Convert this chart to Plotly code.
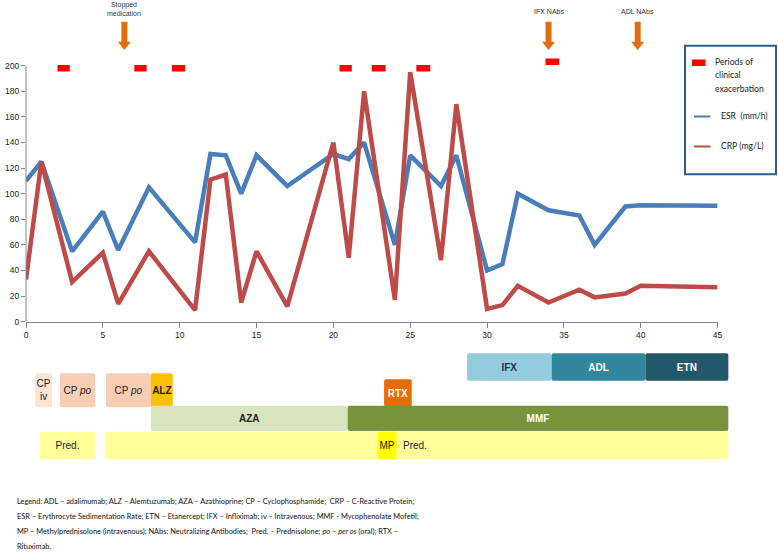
import plotly.graph_objects as go

# ---------------- data ----------------
time_points = [0, 1, 3, 5, 6, 8, 11, 12, 13, 14, 15, 17, 20, 21, 22, 24, 25, 27, 28, 30, 31, 32, 34, 36, 37, 39, 40, 45]
esr_values = [110, 125, 55, 86, 56, 105, 62, 131, 130, 100, 130, 106, 131, 127, 140, 60, 130, 106, 130, 40, 45, 100, 87, 83, 60, 90, 91, 90.5]
crp_values = [33, 125, 31, 54, 14, 55, 9, 111, 115, 15, 55, 12, 140, 50, 180, 17, 195, 48, 170, 10, 13, 28, 15, 25, 19, 22, 28, 27]

flare_start = [2.05, 7.05, 9.5, 20.4, 22.5, 25.4, 33.8]
flare_end = [2.85, 7.85, 10.35, 21.2, 23.4, 26.3, 34.7]
flare_level = [198, 198, 198, 198, 198, 198, 203]

event_x = [6.4, 34.0, 39.8]
event_labels = ["Stopped<br>medication", "IFX NAbs", "ADL NAbs"]

x_ticks = [0, 5, 10, 15, 20, 25, 30, 35, 40, 45]
y_ticks = [0, 20, 40, 60, 80, 100, 120, 140, 160, 180, 200]

treatments = ["IFX", "ADL", "ETN", "CP iv", "CP po", "CP po", "ALZ", "RTX", "AZA", "MMF", "Pred.", "Pred.", "MP"]
treat_start = [28.7, 34.2, 40.3, 0.6, 2.2, 5.2, 8.13, 23.3, 8.13, 20.93, 0.9, 5.2, 22.9]
treat_end = [34.2, 40.3, 45.7, 1.7, 4.5, 8.13, 9.55, 25.1, 20.93, 45.7, 4.5, 45.7, 24.1]

legend_lines = [
    "Legend: ADL – adalimumab; ALZ – Alemtuzumab; AZA – Azathioprine; CP – Cyclophosphamide;  CRP – C-Reactive Protein;",
    "ESR – Erythrocyte Sedimentation Rate; ETN – Etanercept; IFX – Infliximab; iv – Intravenous; MMF - Mycophenolate Mofetil;",
    "MP – Methylprednisolone (intravenous); NAbs: Neutralizing Antibodies;  Pred. – Prednisolone; <i>po</i> – <i>per os</i> (oral); RTX –",
    "Rituximab.",
]

# ---------------- styles / layout ----------------
W, H = 778, 555
ML, MR = 26, 38
PW = W - ML - MR
X0_PX, X45_PX = 26, 717.6
SCALE = (X45_PX - X0_PX) / 45.0
Y0_PX, PX_PER_UNIT = 321.7, 1.28
Y_TOP = 210

FONT = "Lato, Liberation Sans, Arial, sans-serif"
TICKFONT = "Liberation Sans, Arial, sans-serif"
BLUE = "#4A7EBB"
RED = "#BE4B48"
ORANGE = "#E46C0A"
GREY = "#868686"

LANE_OF = {"IFX": "bio", "ADL": "bio", "ETN": "bio", "CP iv": "cp", "CP po": "cp", "ALZ": "cp",
           "RTX": "rtx", "AZA": "imm", "MMF": "imm", "Pred.": "ster", "MP": "ster"}
LANE_GEOM = {"bio": (367, 27.4), "cp": (390.3, 34), "rtx": (393, 27.4), "imm": (418.3, 25.3), "ster": (445.5, 27.6)}
COLOR_OF = {"IFX": "#93CDDD", "ADL": "#31859C", "ETN": "#215968", "CP iv": "#FCE4D6", "CP po": "#F9CDB3",
            "ALZ": "#FFC000", "RTX": "#E46C0A", "AZA": "#D7E4BD", "MMF": "#77933C", "Pred.": "#FFFF99", "MP": "#FFFF00"}
TEXTCOL_OF = {"IFX": "#1F2F4F", "ADL": "white", "ETN": "white", "CP iv": "#222", "CP po": "#222", "ALZ": "#222",
              "RTX": "white", "AZA": "#222", "MMF": "white", "Pred.": "#222", "MP": "#222"}
LABEL_OF = {"IFX": "<b>IFX</b>", "ADL": "<b>ADL</b>", "ETN": "<b>ETN</b>", "CP iv": "CP<br>iv", "CP po": "CP <i>po</i>",
            "ALZ": "<b>ALZ</b>", "RTX": "<b>RTX</b>", "AZA": "<b>AZA</b>", "MMF": "<b>MMF</b>", "Pred.": "Pred.", "MP": "MP"}


def px_x(p):
    return (p - ML) / PW


def px_y(p):
    return 1 - p / H


fig = go.Figure()

# main lines
fig.add_trace(go.Scatter(x=time_points, y=esr_values, mode="lines", line=dict(color=BLUE, width=4.5),
                         showlegend=False, name="ESR  (mm/h)"))
fig.add_trace(go.Scatter(x=time_points, y=crp_values, mode="lines", line=dict(color=RED, width=4.5),
                         showlegend=False, name="CRP (mg/L)"))

# flare periods
fx, fy = [], []
for s, e, lv in zip(flare_start, flare_end, flare_level):
    fx += [s, e, None]
    fy += [lv, lv, None]
fig.add_trace(go.Scatter(x=fx, y=fy, mode="lines", line=dict(color="#FF0000", width=6.5),
                         showlegend=False, name="Periods of clinical exacerbation"))

# treatment timeline bars
labels, centers, widths, colors, tcolors = [], [], [], [], []
long_pred_idx = None
for i, name in enumerate(treatments):
    c, h = LANE_GEOM[LANE_OF[name]]
    centers.append(c)
    widths.append(h)
    colors.append(COLOR_OF[name])
    tcolors.append(TEXTCOL_OF[name])
    if name == "Pred." and treat_end[i] - treat_start[i] > 20:
        labels.append("")
        long_pred_idx = i
    else:
        labels.append(LABEL_OF[name])

fig.add_trace(go.Bar(
    orientation="h", base=treat_start, x=[e - s for s, e in zip(treat_start, treat_end)], y=centers,
    width=widths, marker=dict(color=colors, line=dict(width=0), cornerradius=2),
    text=labels, textposition="inside", insidetextanchor="middle", textangle=0, constraintext="none",
    textfont=dict(family=TICKFONT, size=10, color=tcolors),
    xaxis="x2", yaxis="y2", showlegend=False, hoverinfo="skip"))

shapes = []
annotations = []

# y axis line (0..200)
shapes.append(dict(type="line", xref="paper", yref="y", x0=0, x1=0, y0=0, y1=200,
                   line=dict(color=GREY, width=1)))

# event arrows
for ex, lab in zip(event_x, event_labels):
    hs, hh = 3 / SCALE, 6.5 / SCALE
    yt, yb, ytip = px_y(21.7), px_y(41.7), px_y(50)
    path = (f"M {ex-hs},{yt} L {ex+hs},{yt} L {ex+hs},{yb} L {ex+hh},{yb} L {ex},{ytip} "
            f"L {ex-hh},{yb} L {ex-hs},{yb} Z")
    shapes.append(dict(type="path", xref="x", yref="paper", path=path, fillcolor=ORANGE,
                       line=dict(width=0)))
    two = "<br>" in lab
    annotations.append(dict(x=ex, xref="x", y=px_y(0) if two else px_y(7.5), yref="paper",
                            yanchor="top", xanchor="center", text=lab, showarrow=False,
                            font=dict(family=TICKFONT, size=7, color="#333"), borderpad=0))

# long Pred. label after MP
if long_pred_idx is not None:
    mp_idx = treatments.index("MP")
    annotations.append(dict(x=treat_end[mp_idx] + 0.3, xref="x2", y=LANE_GEOM["ster"][0], yref="y2",
                            xanchor="left", yanchor="middle", text="Pred.", showarrow=False,
                            font=dict(family=TICKFONT, size=10, color="#222")))

# custom legend box
shapes.append(dict(type="rect", xref="paper", yref="paper", x0=px_x(685), x1=px_x(776),
                   y0=px_y(174.3), y1=px_y(45.7), line=dict(color="#2E5C8A", width=2), fillcolor="white"))
shapes.append(dict(type="rect", xref="paper", yref="paper", x0=px_x(692), x1=px_x(705.5),
                   y0=px_y(66), y1=px_y(59.5), line=dict(width=0), fillcolor="#FF0000"))
shapes.append(dict(type="line", xref="paper", yref="paper", x0=px_x(694), x1=px_x(710.5),
                   y0=px_y(116.5), y1=px_y(116.5), line=dict(color=BLUE, width=2)))
shapes.append(dict(type="line", xref="paper", yref="paper", x0=px_x(694), x1=px_x(710.5),
                   y0=px_y(146.5), y1=px_y(146.5), line=dict(color=RED, width=2)))
for txt, xp, yp in [("Periods of", 713.5, 62.5), ("clinical", 713.5, 75.5), ("exacerbation", 713.5, 88.5),
                    ("ESR  (mm/h)", 719.5, 116), ("CRP (mg/L)", 719.5, 146)]:
    annotations.append(dict(x=px_x(xp), y=px_y(yp), xref="paper", yref="paper", xanchor="left",
                            yanchor="middle", text=txt, showarrow=False,
                            font=dict(family=FONT, size=8.6, color="#222"), borderpad=0))

# footer legend text
for k, line in enumerate(legend_lines):
    annotations.append(dict(x=px_x(16), y=px_y(501.7 + 15 * k), xref="paper", yref="paper",
                            xanchor="left", yanchor="middle", text=line, showarrow=False,
                            font=dict(family=FONT, size=7.4, color="#111"), borderpad=0))

main_dom_top = px_y(Y0_PX - Y_TOP * PX_PER_UNIT)
main_dom_bot = px_y(Y0_PX)

fig.update_layout(
    width=W, height=H,
    margin=dict(l=ML, r=MR, t=0, b=0, autoexpand=False),
    paper_bgcolor="white", plot_bgcolor="rgba(0,0,0,0)",
    barmode="overlay",
    showlegend=False,
    font=dict(family=FONT),
    xaxis=dict(domain=[0, (X45_PX - ML) / PW], range=[0, 45], tickvals=x_ticks, showgrid=False,
               zeroline=False, showline=True, linecolor=GREY, linewidth=1, ticks="outside",
               ticklen=5, tickcolor=GREY, tickfont=dict(family=TICKFONT, size=8.5, color="#222"),
               anchor="y", automargin=False),
    yaxis=dict(domain=[main_dom_bot, main_dom_top], range=[0, Y_TOP], tickvals=y_ticks, showgrid=False,
               zeroline=False, showline=False, ticks="outside", ticklen=4, tickcolor=GREY,
               tickfont=dict(family=TICKFONT, size=8.5, color="#222"), anchor="x",
               automargin=False),
    xaxis2=dict(domain=[0, 1], range=[0, PW / SCALE], visible=False, anchor="y2", fixedrange=True),
    yaxis2=dict(domain=[px_y(462), px_y(350)], range=[462, 350], visible=False, anchor="x2"),
    shapes=shapes,
    annotations=annotations,
)

fig.write_html("out.html", config={"displayModeBar": False},
               post_script="document.body.style.margin='0';document.body.style.padding='0';")
